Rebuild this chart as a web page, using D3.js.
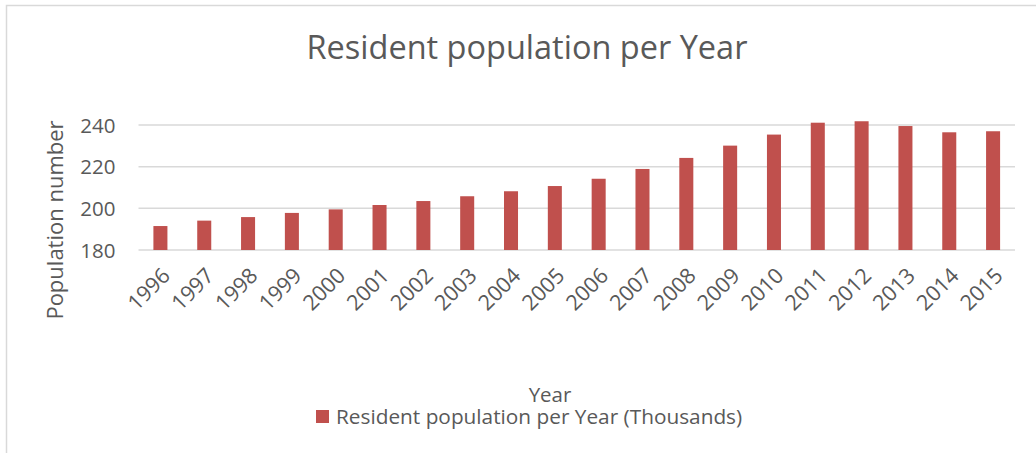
<!DOCTYPE html>
<html>
<head>
<meta charset="utf-8">
<script src="https://cdn.jsdelivr.net/npm/d3@7"></script>
<style>
    body { margin: 0; background: #fff; }
    text { font-family: "Open Sans", sans-serif; fill: #595959; }
</style>
</head>
<body>
<div id="chart"></div>
<script>
const years = ["1996", "1997", "1998", "1999", "2000", "2001", "2002", "2003", "2004", "2005",
    "2006", "2007", "2008", "2009", "2010", "2011", "2012", "2013", "2014", "2015"];
const population = [191.5, 194.1, 195.8, 197.8, 199.5, 201.6, 203.5, 205.8, 208.2, 210.7,
    214.2, 218.9, 224.2, 230.1, 235.4, 241.1, 241.8, 239.5, 236.5, 237.0];
const yTicks = [180, 200, 220, 240];

const dim = { width: 1036, height: 453 };
const margin = { top: 125, left: 138.5, right: 21, bottom: 203 };

const svg = d3.select("#chart").append("svg")
    .attr("width", dim.width)
    .attr("height", dim.height);

// chart frame
svg.append("rect")
    .attr("x", 6.5)
    .attr("y", 5.5)
    .attr("width", dim.width + 10)
    .attr("height", dim.height + 10)
    .attr("fill", "none")
    .attr("stroke", "#d9d9d9")
    .attr("stroke-width", 1.5);

const xScale = d3.scaleBand()
    .domain(years)
    .range([margin.left, dim.width - margin.right])
    .paddingInner(0.68)
    .paddingOuter(0.34);

const yScale = d3.scaleLinear()
    .domain([180, 240])
    .range([dim.height - margin.bottom, margin.top]);

// gridlines
svg.append("g")
    .attr("class", "grid")
    .selectAll("line")
    .data(yTicks)
    .enter().append("line")
    .attr("x1", margin.left)
    .attr("x2", dim.width - margin.right)
    .attr("y1", d => yScale(d))
    .attr("y2", d => yScale(d))
    .attr("stroke", "#d9d9d9")
    .attr("stroke-width", 1.5);

// y axis labels
const yAxis = svg.append("g")
    .attr("transform", `translate(${margin.left - 23},0)`)
    .call(d3.axisLeft(yScale).tickValues(yTicks).tickSize(0).tickPadding(0));
yAxis.select(".domain").remove();
yAxis.selectAll("text")
    .attr("font-size", 20.5)
    .attr("font-family", null)
    .attr("fill", null)
    .attr("dy", "0.35em");

// bars
svg.selectAll(".bar")
    .data(population)
    .enter().append("rect")
    .attr("class", "bar")
    .attr("x", (d, i) => xScale(years[i]))
    .attr("y", d => yScale(d))
    .attr("width", xScale.bandwidth())
    .attr("height", d => yScale(180) - yScale(d))
    .attr("fill", "#c0504d");

// x axis labels
const xAxis = svg.append("g")
    .attr("transform", `translate(0,${yScale(180)})`)
    .call(d3.axisBottom(xScale).tickSize(0).tickPadding(0));
xAxis.select(".domain").remove();
xAxis.selectAll("text")
    .attr("font-size", 21.5)
    .attr("font-family", null)
    .attr("fill", null)
    .attr("text-anchor", "end")
    .attr("dy", null)
    .attr("y", 0)
    .attr("transform", "translate(11,27) rotate(-45)");

// title
svg.append("text")
    .attr("x", 527)
    .attr("y", 59)
    .attr("text-anchor", "middle")
    .attr("font-size", 32.5)
    .text("Resident population per Year");

// axis titles
svg.append("text")
    .attr("transform", "translate(63,220) rotate(-90)")
    .attr("text-anchor", "middle")
    .attr("font-size", 22)
    .text("Population number");

svg.append("text")
    .attr("x", 550)
    .attr("y", 402)
    .attr("text-anchor", "middle")
    .attr("font-size", 20.5)
    .text("Year");

// legend
svg.append("rect")
    .attr("x", 316)
    .attr("y", 410)
    .attr("width", 13)
    .attr("height", 13)
    .attr("fill", "#c0504d");

svg.append("text")
    .attr("x", 336)
    .attr("y", 424)
    .attr("font-size", 20.8)
    .text("Resident population per Year (Thousands)");
</script>
</body>
</html>
